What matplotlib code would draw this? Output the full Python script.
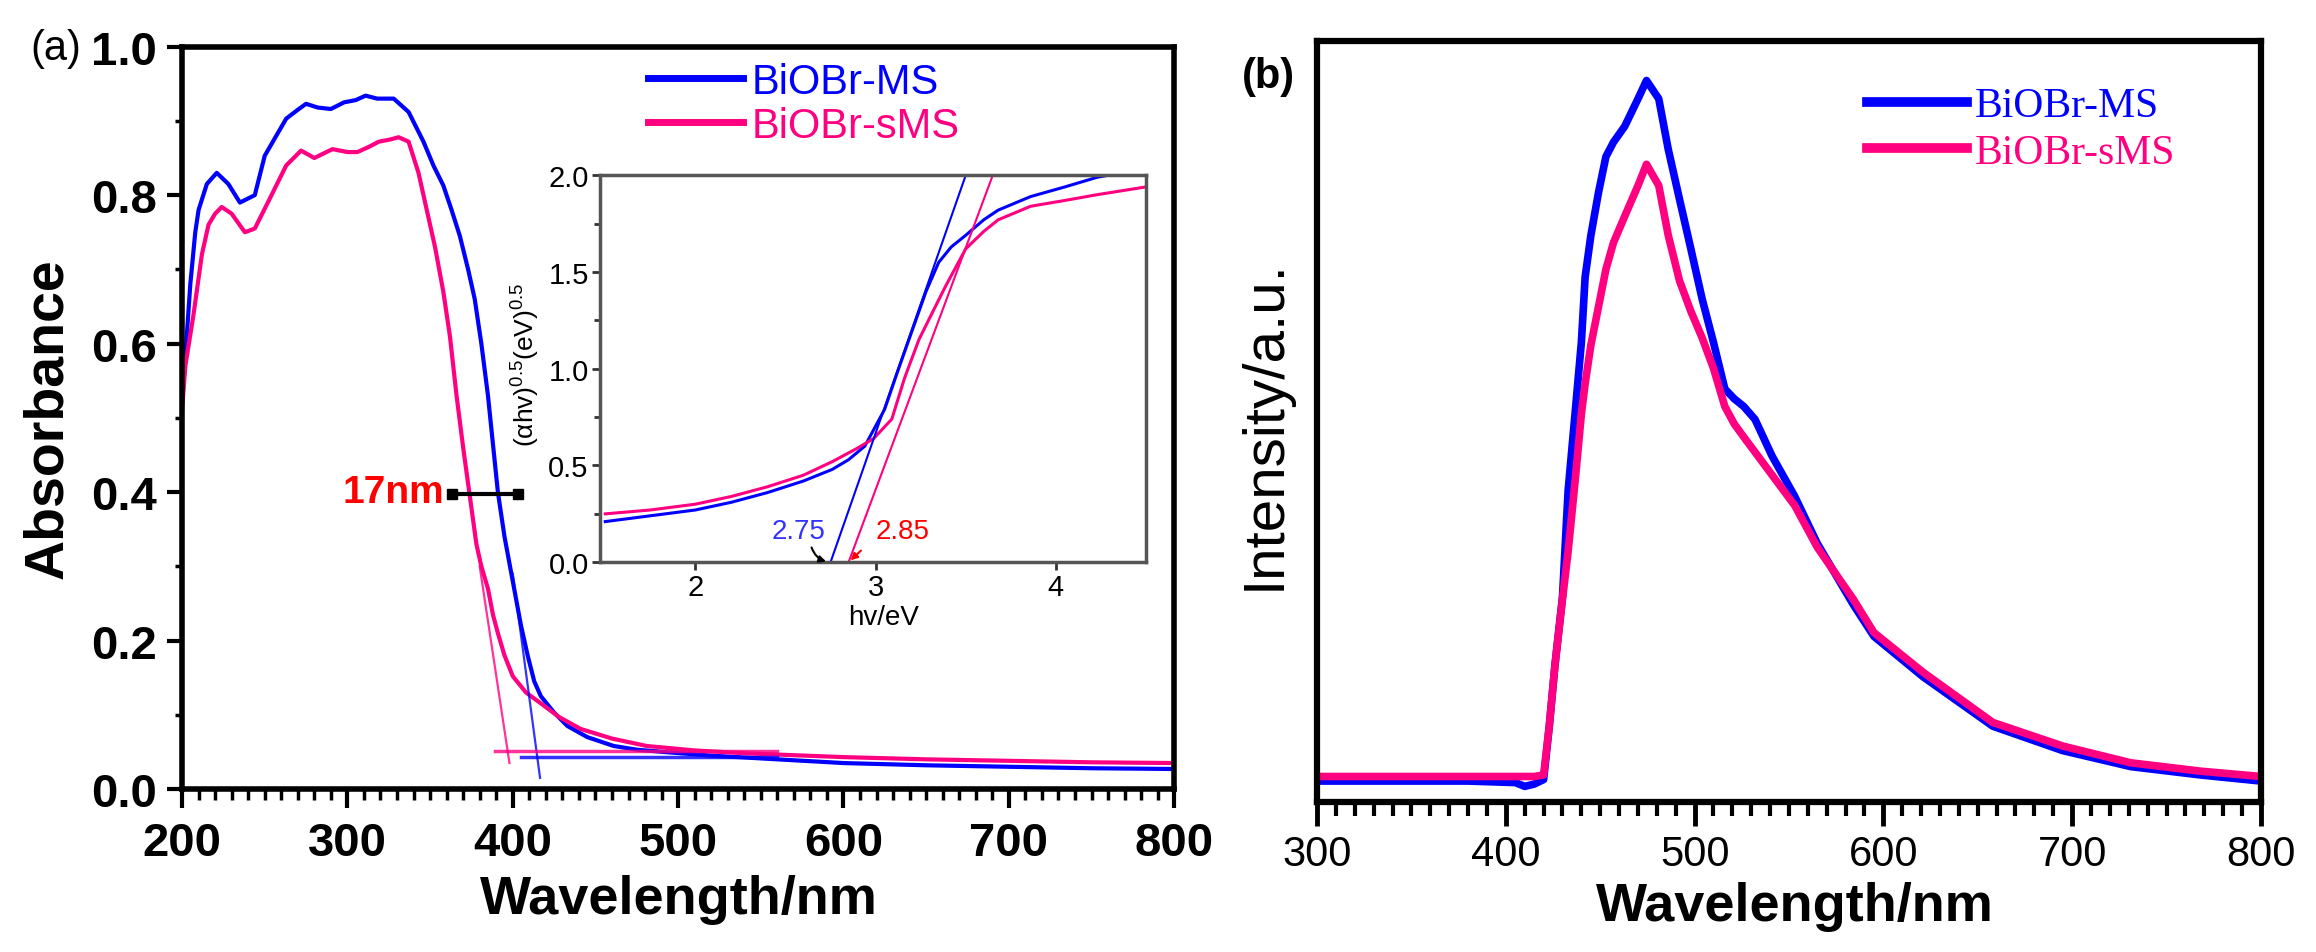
import numpy as np
import matplotlib.pyplot as plt
from matplotlib.ticker import MultipleLocator, FormatStrFormatter
from matplotlib import font_manager

# pick a narrow sans if installed
names = {f.name for f in font_manager.fontManager.ttflist}
NARROW = 'Liberation Sans Narrow' if 'Liberation Sans Narrow' in names else 'Liberation Sans'
HAS_NARROW = NARROW == 'Liberation Sans Narrow'

plt.rcParams['font.family'] = ['Liberation Sans', 'DejaVu Sans']
plt.rcParams['mathtext.fontset'] = 'custom'
plt.rcParams['mathtext.rm'] = 'Liberation Sans'

BLUE = '#0000FF'
PINK = '#FF0080'
RED = '#FF0000'

# --- (a) UV-vis absorbance ---
ms_wl = [200, 201, 205, 208, 210, 215, 221, 228, 235, 244, 250, 257, 263, 270, 275, 282, 290,
         298, 305, 311, 318, 328, 337, 346, 352, 358, 363, 368, 373, 377, 381, 385, 388, 391,
         395, 400, 405, 409, 413, 417, 425, 433, 445, 461, 475, 491, 520, 560, 600, 650, 700,
         750, 800]
ms_abs = [0.52, 0.55, 0.68, 0.75, 0.78, 0.815, 0.83, 0.815, 0.79, 0.80, 0.853, 0.88, 0.903,
          0.915, 0.923, 0.918, 0.916, 0.925, 0.928, 0.934, 0.93, 0.93, 0.912, 0.872, 0.84,
          0.813, 0.78, 0.745, 0.70, 0.66, 0.60, 0.53, 0.465, 0.40, 0.34, 0.28, 0.22, 0.18,
          0.145, 0.125, 0.103, 0.085, 0.07, 0.058, 0.053, 0.05, 0.045, 0.04, 0.035, 0.032,
          0.03, 0.028, 0.027]
sms_wl = [200, 202, 207, 212, 216, 220, 224, 230, 238, 244, 253, 263, 272, 280, 291, 300, 306,
          313, 319, 326, 331, 337, 343, 348, 353, 358, 362, 366, 370, 374, 378, 381, 385, 388,
          391, 395, 400, 408, 416, 428, 441, 460, 481, 510, 542, 600, 650, 700, 750, 800]
sms_abs = [0.51, 0.57, 0.64, 0.72, 0.76, 0.775, 0.784, 0.775, 0.75, 0.755, 0.795, 0.84, 0.86,
           0.85, 0.862, 0.858, 0.858, 0.865, 0.872, 0.875, 0.878, 0.872, 0.83, 0.78, 0.73,
           0.67, 0.61, 0.53, 0.46, 0.395, 0.33, 0.30, 0.27, 0.235, 0.21, 0.18, 0.152, 0.13,
           0.117, 0.097, 0.081, 0.068, 0.058, 0.052, 0.048, 0.043, 0.04, 0.038, 0.036, 0.035]
# tangent / baseline construction lines
ms_tan_wl, ms_tan_abs = [400, 416.5], [0.29, 0.015]
ms_base_wl, ms_base_abs = [405, 560], [0.043, 0.043]
sms_tan_wl, sms_tan_abs = [380, 398], [0.30, 0.035]
sms_base_wl, sms_base_abs = [389, 560], [0.051, 0.051]
shift_wl, shift_abs = [363, 403], [0.398, 0.398]

# --- inset: Tauc plot ---
ms_hv = [1.5, 1.75, 2.0, 2.2, 2.4, 2.6, 2.76, 2.85, 2.94, 3.05, 3.12, 3.2, 3.28, 3.35, 3.42,
         3.5, 3.6, 3.68, 3.86, 4.05, 4.23, 4.35, 4.5]
ms_tauc = [0.21, 0.24, 0.27, 0.31, 0.36, 0.42, 0.48, 0.53, 0.60, 0.79, 0.98, 1.19, 1.40, 1.55,
           1.63, 1.69, 1.77, 1.82, 1.89, 1.94, 1.99, 2.01, 2.02]
sms_hv = [1.5, 1.75, 2.0, 2.2, 2.4, 2.6, 2.76, 2.9, 2.99, 3.09, 3.16, 3.24, 3.32, 3.39, 3.5,
          3.6, 3.68, 3.86, 4.05, 4.23, 4.5]
sms_tauc = [0.25, 0.27, 0.30, 0.34, 0.39, 0.45, 0.52, 0.59, 0.64, 0.74, 0.95, 1.15, 1.30,
            1.43, 1.62, 1.71, 1.77, 1.84, 1.87, 1.90, 1.94]
ms_fit_hv, ms_fit_y = [2.75, 3.50], [0.0, 2.0]
sms_fit_hv, sms_fit_y = [2.85, 3.65], [0.0, 2.0]

# --- (b) PL spectra ---
pl_wl = [300, 340, 380, 405, 410, 415, 420, 423, 426, 430, 433, 437, 440, 442, 445, 449, 453,
         457, 463, 470, 474.5, 481, 486, 492, 498, 504, 510, 516, 521, 526, 532, 541, 553, 565,
         584, 595, 621, 658, 695, 731, 768, 800]
ms_pl = [0.028, 0.028, 0.028, 0.026, 0.021, 0.024, 0.03, 0.10, 0.18, 0.27, 0.41, 0.52, 0.604,
         0.69, 0.744, 0.80, 0.848, 0.867, 0.888, 0.924, 0.948, 0.924, 0.858, 0.792, 0.727,
         0.661, 0.604, 0.543, 0.53, 0.52, 0.503, 0.455, 0.402, 0.34, 0.26, 0.218, 0.165, 0.10,
         0.068, 0.047, 0.036, 0.028]
sms_pl = [0.034, 0.034, 0.034, 0.034, 0.034, 0.034, 0.036, 0.10, 0.18, 0.267, 0.33, 0.43,
          0.51, 0.55, 0.60, 0.65, 0.70, 0.735, 0.77, 0.81, 0.838, 0.81, 0.745, 0.685, 0.645,
          0.61, 0.57, 0.52, 0.497, 0.48, 0.46, 0.43, 0.39, 0.335, 0.267, 0.223, 0.171, 0.105,
          0.074, 0.052, 0.041, 0.034]

fig = plt.figure(figsize=(23.16, 9.53), dpi=100)
ax1 = fig.add_axes([0.0786, 0.171, 0.4284, 0.779])
ax2 = fig.add_axes([0.5687, 0.157, 0.4075, 0.799])
axin = fig.add_axes([0.259, 0.409, 0.2358, 0.406])

# ---------- panel (a) ----------
ax1.plot(ms_wl, ms_abs, color=BLUE, lw=3, label='BiOBr-MS')
ax1.plot(sms_wl, sms_abs, color=PINK, lw=3, label='BiOBr-sMS')
ax1.plot(ms_tan_wl, ms_tan_abs, color=BLUE, lw=1.6, alpha=0.8)
ax1.plot(ms_base_wl, ms_base_abs, color=BLUE, lw=2.5, alpha=0.8)
ax1.plot(sms_tan_wl, sms_tan_abs, color=PINK, lw=1.6, alpha=0.8)
ax1.plot(sms_base_wl, sms_base_abs, color=PINK, lw=2.5, alpha=0.8)
ax1.plot(shift_wl, shift_abs, color='black', lw=3, marker='s', ms=7)
ax1.text(358.5, 0.40, '17nm', color=RED, fontsize=30 if HAS_NARROW else 28,
         fontweight='bold', ha='right', va='center', family=[NARROW, 'Liberation Sans'])

ax1.set_xlim(200, 800)
ax1.set_ylim(0, 1.0)
ax1.xaxis.set_major_locator(MultipleLocator(100))
ax1.xaxis.set_minor_locator(MultipleLocator(10))
ax1.yaxis.set_major_locator(MultipleLocator(0.2))
ax1.yaxis.set_minor_locator(MultipleLocator(0.1))
ax1.yaxis.set_major_formatter(FormatStrFormatter('%.1f'))
ax1.tick_params(axis='x', which='major', length=14, width=3, pad=9)
ax1.tick_params(axis='x', which='minor', length=8, width=2.5)
ax1.tick_params(axis='y', which='major', length=11, width=3, pad=7)
ax1.tick_params(axis='y', which='minor', length=5, width=2.5)
for lab in ax1.get_xticklabels() + ax1.get_yticklabels():
    lab.set_fontsize(34)
    lab.set_fontweight('bold')
for sp in ax1.spines.values():
    sp.set_linewidth(4)

ax1.legend(loc='upper left', bbox_to_anchor=(0.2798, 0.934), bbox_transform=fig.transFigure,
           frameon=False, fontsize=30, handlelength=2.28, handletextpad=0.2,
           labelspacing=0.1, borderpad=0, borderaxespad=0, labelcolor='linecolor')
for line in ax1.get_legend().get_lines():
    line.set_linewidth(5)

fig.text(0.0207, 0.561, 'Absorbance', rotation=90, ha='center', va='center',
         fontsize=40, fontweight='bold')
fig.text(0.2932, 0.0556, 'Wavelength/nm', ha='center', va='center',
         fontsize=39, fontweight='bold')
fig.text(0.0242, 0.949, '(a)', ha='center', va='center', fontsize=30)

# ---------- inset ----------
axin.plot(ms_hv, ms_tauc, color=BLUE, lw=2.2)
axin.plot(sms_hv, sms_tauc, color=PINK, lw=2.2)
axin.plot(ms_fit_hv, ms_fit_y, color=BLUE, lw=1.5)
axin.plot(sms_fit_hv, sms_fit_y, color=PINK, lw=1.5)
axin.set_xlim(1.47, 4.5)
axin.set_ylim(0, 2.0)
axin.xaxis.set_major_locator(MultipleLocator(1))
axin.yaxis.set_major_locator(MultipleLocator(0.5))
axin.yaxis.set_minor_locator(MultipleLocator(0.25))
axin.yaxis.set_major_formatter(FormatStrFormatter('%.1f'))
axin.tick_params(which='major', length=6, width=2, pad=2, colors='#333333')
axin.tick_params(which='minor', length=4, width=2, colors='#333333')
for lab in axin.get_xticklabels() + axin.get_yticklabels():
    lab.set_fontsize(21)
    lab.set_family([NARROW, 'Liberation Sans'])
    lab.set_color('black')
for sp in axin.spines.values():
    sp.set_linewidth(2.5)
    sp.set_color('#555555')
axin.text(2.57, 0.16, '2.75', color='#3333FF', fontsize=20, ha='center', va='center',
          family=[NARROW, 'Liberation Sans'])
axin.text(3.15, 0.16, '2.85', color=RED, fontsize=20, ha='center', va='center',
          family=[NARROW, 'Liberation Sans'])
axin.annotate('', xy=(2.74, 0.0), xytext=(2.64, 0.09),
              arrowprops=dict(arrowstyle='-|>', color='black', lw=1.5,
                              connectionstyle='arc3,rad=0.3', mutation_scale=10))
axin.annotate('', xy=(2.85, 0.0), xytext=(2.93, 0.07),
              arrowprops=dict(arrowstyle='-|>', color=RED, lw=1.5, mutation_scale=10))
fig.text(0.3817, 0.352, 'hv/eV', ha='center', va='center', fontsize=20,
         family=[NARROW, 'Liberation Sans'])
fig.text(0.2267, 0.617, r'(αhv)$^{0.5}$(eV)$^{0.5}$', rotation=90, ha='center',
         va='center', fontsize=19, family=[NARROW, 'Liberation Sans', 'DejaVu Sans'])

# ---------- panel (b) ----------
ax2.plot(pl_wl, ms_pl, color=BLUE, lw=5.5, label='BiOBr-MS')
ax2.plot(pl_wl, sms_pl, color=PINK, lw=5.5, label='BiOBr-sMS')
ax2.set_xlim(300, 800)
ax2.set_ylim(0, 1.0)
ax2.set_yticks([])
ax2.xaxis.set_major_locator(MultipleLocator(100))
ax2.xaxis.set_minor_locator(MultipleLocator(10))
ax2.tick_params(axis='x', which='major', length=17, width=3.5, pad=6)
ax2.tick_params(axis='x', which='minor', length=10, width=3)
for lab in ax2.get_xticklabels():
    lab.set_fontsize(34 if HAS_NARROW else 30)
    lab.set_family([NARROW, 'Liberation Sans'])
for sp in ax2.spines.values():
    sp.set_linewidth(4.5)

ax2.legend(loc='upper left', bbox_to_anchor=(0.806, 0.908), bbox_transform=fig.transFigure,
           frameon=False, prop={'family': 'Liberation Serif', 'size': 30},
           handlelength=2.4, handletextpad=0.2, labelspacing=0.2, borderpad=0,
           borderaxespad=0, labelcolor='linecolor')
for line in ax2.get_legend().get_lines():
    line.set_linewidth(7)

fig.text(0.5462, 0.554, 'Intensity/a.u.', rotation=90, ha='center', va='center',
         fontsize=42)
fig.text(0.775, 0.048, 'Wavelength/nm', ha='center', va='center', fontsize=39,
         fontweight='bold', family=[NARROW, 'Liberation Sans'])
fig.text(0.5475, 0.919, '(b)', ha='center', va='center', fontsize=30, fontweight='bold')

fig.savefig('out.png', dpi=100, facecolor='white')
